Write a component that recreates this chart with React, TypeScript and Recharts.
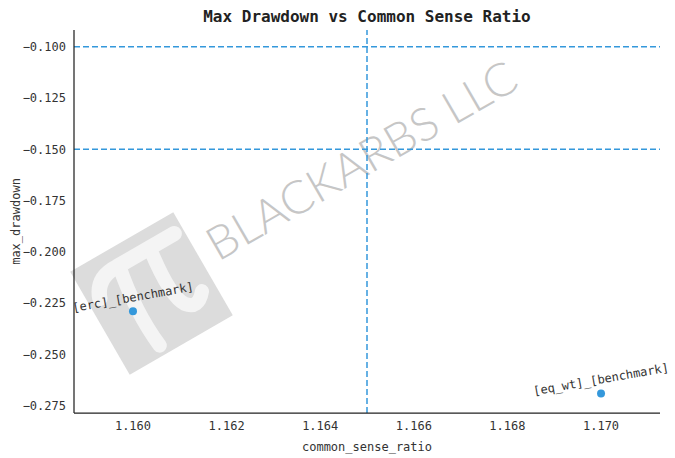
import React from "react";
import { ScatterChart, Scatter, XAxis, YAxis, ReferenceLine, Label } from "recharts";

const names = ["[erc]_[benchmark]", "[eq_wt]_[benchmark]"];
const commonSenseRatio = [1.16, 1.17];
const maxDrawdown = [-0.229, -0.269];
const xTicks = [1.16, 1.162, 1.164, 1.166, 1.168, 1.17];
const yTicks = [-0.1, -0.125, -0.15, -0.175, -0.2, -0.225, -0.25, -0.275];
const hLines = [-0.1, -0.15];
const vLines = [1.165];

const data = names.map((n, i) => ({ name: n, x: commonSenseRatio[i], y: maxDrawdown[i] }));

const BLUE = "#3498db";
const FONT = "'DejaVu Sans Mono', monospace";

const fmt = (v: number) => {
  const s = v.toFixed(3);
  return s.startsWith("-") ? "\u2212" + s.slice(1) : s;
};

const PointShape = (props: any) => {
  const { cx, cy, payload } = props;
  return (
    <g>
      <circle cx={cx} cy={cy} r={4} fill={BLUE} />
      <text
        x={cx}
        y={cy - 10}
        textAnchor="middle"
        fontFamily={FONT}
        fontSize={12}
        fill="#333"
        transform={`rotate(-10 ${cx} ${cy - 14})`}
      >
        {payload.name}
      </text>
    </g>
  );
};

const Watermark = () => (
  <svg width={675} height={458} style={{ position: "absolute", left: 0, top: 0 }}>
    <g transform="translate(151.5 293.5) rotate(-30)">
      <rect x={-59.5} y={-59.5} width={119} height={119} fill="#dcdcdc" />
      <g fill="none" stroke="#f4f4f4" strokeLinecap="round" transform="translate(0 2) scale(1.18)">
        <path d="M -40 -20 Q -34 -37 -14 -36 L 42 -36" strokeWidth={13} />
        <path d="M -12 -36 Q -20 5 -16 40" strokeWidth={12} />
        <path d="M 18 -36 Q 12 8 20 20 Q 28 30 38 18" strokeWidth={12} />
      </g>
    </g>
    <text
      x={218}
      y={262}
      fontFamily="Lato, 'Open Sans', sans-serif"
      fontWeight={300}
      fontSize={46}
      fill="#c6c6c6"
      textLength={350}
      lengthAdjust="spacingAndGlyphs"
      transform="rotate(-30 218 262)"
    >
      BLACKARBS LLC
    </text>
  </svg>
);

export default function App() {
  return (
    <div style={{ position: "absolute", left: 0, top: 0, width: 675, height: 458, background: "#fff" }}>
      <Watermark />
      <div style={{ position: "absolute", left: 0, top: 0 }}>
        <ScatterChart width={675} height={458} margin={{ top: 30, right: 15, bottom: 15, left: 14 }}>
          <text
            x={367}
            y={22}
            textAnchor="middle"
            fontFamily={FONT}
            fontWeight="bold"
            fontSize={16}
            fill="#222"
          >
            Max Drawdown vs Common Sense Ratio
          </text>
          <XAxis
            type="number"
            dataKey="x"
            domain={[1.15874, 1.17126]}
            ticks={xTicks}
            tickFormatter={(v: number) => v.toFixed(3)}
            tickLine={false}
            axisLine={{ stroke: "#222", strokeWidth: 1.25 }}
            tick={{ fontFamily: FONT, fontSize: 12, fill: "#333" }}
            height={30}
          >
            <Label
              value="common_sense_ratio"
              position="insideBottom"
              offset={-8}
              style={{ fontFamily: FONT, fontSize: 12, fill: "#333" }}
            />
          </XAxis>
          <YAxis
            type="number"
            dataKey="y"
            domain={[-0.27856, -0.09186]}
            ticks={yTicks}
            tickFormatter={fmt}
            tickLine={false}
            axisLine={{ stroke: "#222", strokeWidth: 1.25 }}
            tick={{ fontFamily: FONT, fontSize: 12, fill: "#333" }}
            width={60}
          >
            <Label
              value="max_drawdown"
              angle={-90}
              position="insideLeft"
              offset={2}
              style={{ fontFamily: FONT, fontSize: 12, fill: "#333", textAnchor: "middle" }}
            />
          </YAxis>
          {hLines.map((v) => (
            <ReferenceLine key={"h" + v} y={v} stroke={BLUE} strokeWidth={1.5} strokeDasharray="6 3" />
          ))}
          {vLines.map((v) => (
            <ReferenceLine key={"v" + v} x={v} stroke={BLUE} strokeWidth={1.5} strokeDasharray="6 3" />
          ))}
          <Scatter data={data} shape={<PointShape />} isAnimationActive={false} />
        </ScatterChart>
      </div>
    </div>
  );
}
